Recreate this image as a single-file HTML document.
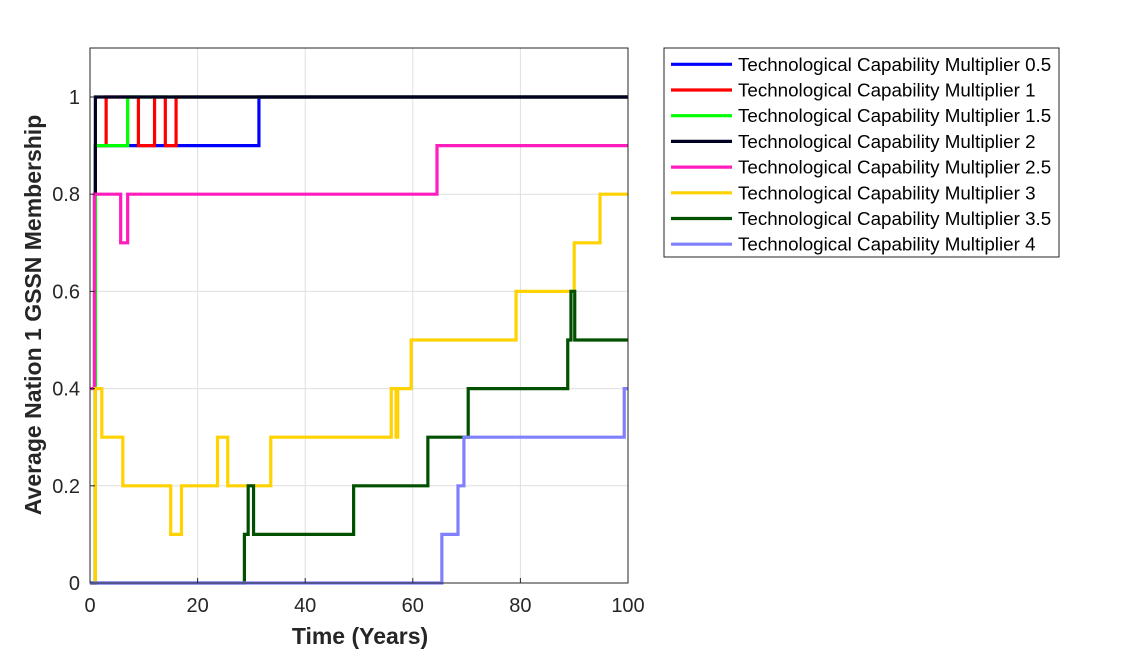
<!DOCTYPE html>
<html><head><meta charset="utf-8"><style>
body{margin:0;background:#fff;}
svg{display:block;font-family:"Liberation Sans",sans-serif;}
</style></head><body>
<svg id="chart" width="1125" height="656">
<rect width="1125" height="656" fill="#fff"/>
<g id="grid"></g>
<g id="series"></g>
<rect x="90" y="48" width="538" height="535" fill="none" stroke="#262626" stroke-width="1"/>
<g id="ticks"></g>
<text x="360" y="644" text-anchor="middle" font-size="23" font-weight="bold" fill="#262626">Time (Years)</text>
<text transform="translate(41,315) rotate(-90)" text-anchor="middle" font-size="23" font-weight="bold" fill="#262626">Average Nation 1 GSSN Membership</text>
<g id="legend">
<rect x="664" y="48" width="395" height="209" fill="#fff" stroke="#262626" stroke-width="1"/>
</g>
</svg>
<script>
const names=["Technological Capability Multiplier 0.5","Technological Capability Multiplier 1","Technological Capability Multiplier 1.5","Technological Capability Multiplier 2","Technological Capability Multiplier 2.5","Technological Capability Multiplier 3","Technological Capability Multiplier 3.5","Technological Capability Multiplier 4"];
const colors=["#0000ff","#ff0000","#00ff00","#000022","#ff1dbe","#ffd200","#005000","#8080ff"];
const xTicks=[0,20,40,60,80,100];
const yTicks=[0,0.2,0.4,0.6,0.8,1];
const t05=[0,1,31.4,100];   const v05=[0,0.9,1,1];
const t1=[0,1,3,9,12,14,16,100]; const v1=[0,0.9,1,0.9,1,0.9,1,1];
const t15=[0,1,7,100];      const v15=[0,0.9,1,1];
const t2=[0.9,1,100];         const v2=[0.8,1,1];
const t25=[0,0.8,5.7,7,64.5,100]; const v25=[0.4,0.8,0.7,0.8,0.9,0.9];
const t3=[0,1,2.2,6.1,15,17,23.7,25.6,33.6,56,56.9,57.2,59.7,79.2,90,94.8,100];
const v3=[0,0.4,0.3,0.2,0.1,0.2,0.3,0.2,0.3,0.4,0.3,0.4,0.5,0.6,0.7,0.8,0.8];
const t35=[0,28.7,29.4,30.4,49,62.8,70.3,88.8,89.4,90.1,100];
const v35=[0,0.1,0.2,0.1,0.2,0.3,0.4,0.5,0.6,0.5,0.5];
const t4=[0,65.4,68.4,69.5,99.3,100];
const v4=[0,0.1,0.2,0.3,0.4,0.4];
const T=[t05,t1,t15,t2,t25,t3,t35,t4], V=[v05,v1,v15,v2,v25,v3,v35,v4];
const NS="http://www.w3.org/2000/svg";
const xs=t=>90+t*5.38, ys=v=>583-v*486;
function mk(tag,at,parent){const e=document.createElementNS(NS,tag);for(const k in at)e.setAttribute(k,at[k]);parent.appendChild(e);return e;}
const grid=document.getElementById('grid'),ticks=document.getElementById('ticks');
xTicks.forEach(t=>{
  const g=mk('line',{x1:xs(t),x2:xs(t),y1:48,y2:583,stroke:'#dfdfdf','stroke-width':1},grid);
  
  
  const tk=mk('line',{x1:xs(t),x2:xs(t),y1:583,y2:578,stroke:'#262626'},ticks);
  
  
  const tx=mk('text',{x:xs(t),y:612,'text-anchor':'middle','font-size':20,fill:'#262626'},ticks);
  tx.textContent=t;
  
  
});
yTicks.forEach(v=>{
  const g=mk('line',{x1:90,x2:628,y1:ys(v),y2:ys(v),stroke:'#dfdfdf','stroke-width':1},grid);
  
  
  const tk=mk('line',{x1:90,x2:95,y1:ys(v),y2:ys(v),stroke:'#262626'},ticks);
  
  
  const tx=mk('text',{x:80,y:ys(v)+7,'text-anchor':'end','font-size':20,fill:'#262626'},ticks);
  tx.textContent=v;
  
  
});
const sg=document.getElementById('series'),lg=document.getElementById('legend');
T.forEach((ts,i)=>{
  const vs=V[i];let d='M'+xs(ts[0])+','+ys(vs[0]);
  for(let k=1;k<ts.length;k++){d+=' L'+xs(ts[k])+','+ys(vs[k-1])+' L'+xs(ts[k])+','+ys(vs[k]);}
  const p=mk('path',{d:d,fill:'none',stroke:colors[i],'stroke-width':3.2,'stroke-linejoin':'miter'},sg);
  
  
  const y=64.3+i*25.7;
  const l=mk('line',{x1:671,x2:732,y1:y,y2:y,stroke:colors[i],'stroke-width':3.2},lg);
  
  
  const tx=mk('text',{x:738,y:y+6.5,'font-size':18.8,fill:'#000'},lg);
  tx.textContent=names[i];
  
  
});
</script>
</body></html>
